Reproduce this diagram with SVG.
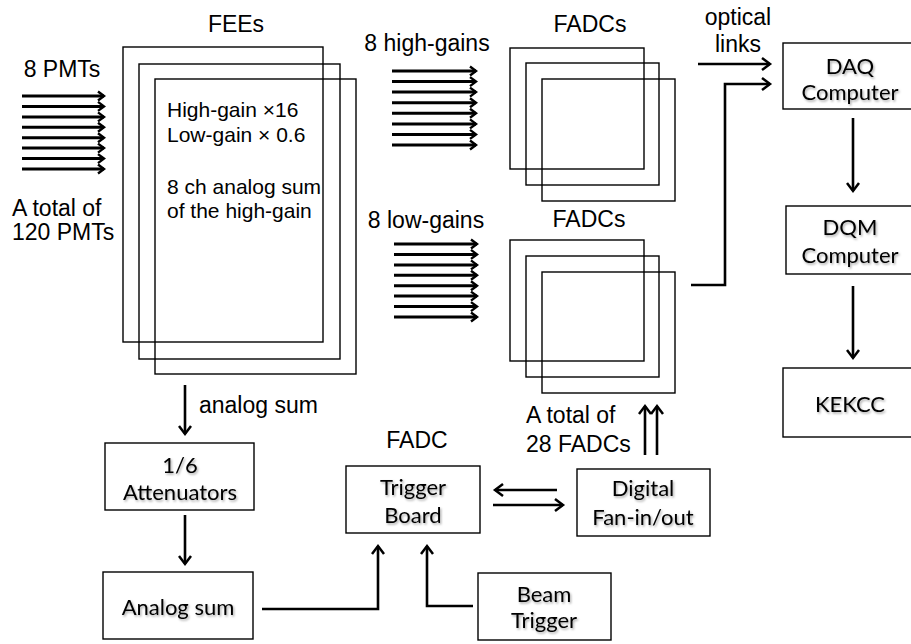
<svg xmlns="http://www.w3.org/2000/svg" width="911" height="644" viewBox="0 0 911 644">
  <style>
    .box { fill: none; stroke: #000; stroke-width: 1.4; }
    .lbl { font-family: "Liberation Sans", Arial, sans-serif; font-size: 23px; fill: #000; }
    .inner { font-family: "Liberation Sans", Arial, sans-serif; font-size: 21px; fill: #000; }
    .cal { font-family: Lato, "Open Sans", sans-serif; font-size: 22px; fill: #000; text-anchor: middle; filter: url(#shadow); }
    .mid { text-anchor: middle; }
    .wire { fill: none; stroke: #000; stroke-width: 2.6; }
    .bus { fill: none; stroke: #000; stroke-width: 3; marker-end: url(#ahs); }
    .arr { marker-end: url(#ah); }
  </style>
  <defs>
    <marker id="ah" markerUnits="userSpaceOnUse" markerWidth="14" markerHeight="14" refX="9" refY="7" orient="auto" overflow="visible">
      <path d="M1,1 L9,7 L1,13" fill="none" stroke="#000" stroke-width="2.5"/>
    </marker>
    <marker id="ahs" markerUnits="userSpaceOnUse" markerWidth="12" markerHeight="12" refX="7" refY="6" orient="auto" overflow="visible">
      <path d="M1,1.5 L7,6 L1,10.5" fill="none" stroke="#000" stroke-width="2.4"/>
    </marker>
    <filter id="shadow" x="-10%" y="-20%" width="130%" height="150%">
      <feDropShadow dx="1.2" dy="1.6" stdDeviation="1.1" flood-color="#000" flood-opacity="0.35"/>
    </filter>
  </defs>

  <!-- input PMT signals -->
  <g id="pmts">
    <text class="lbl mid" x="62" y="77">8 PMTs</text>
    <text class="lbl" x="12" y="216">A total of</text>
    <text class="lbl" x="12" y="240">120 PMTs</text>
  </g>

  <!-- front-end electronics stack -->
  <g id="fees">
    <text class="lbl mid" x="236" y="32">FEEs</text>
    <rect class="box" x="123" y="47" width="200" height="295"/>
    <rect class="box" x="139" y="64" width="201" height="295"/>
    <rect class="box" x="155" y="79" width="201" height="295"/>
    <text class="inner" x="167" y="117">High-gain ×16</text>
    <text class="inner" x="167" y="142">Low-gain × 0.6</text>
    <text class="inner" x="167" y="194">8 ch analog sum</text>
    <text class="inner" x="167" y="218">of the high-gain</text>
  </g>

  <!-- high-gain digitisers -->
  <g id="fadcs-high">
    <text class="lbl mid" x="427" y="51">8 high-gains</text>
    <text class="lbl mid" x="590" y="32">FADCs</text>
    <rect class="box" x="510" y="48" width="134" height="121"/>
    <rect class="box" x="526" y="63" width="133" height="122"/>
    <rect class="box" x="542" y="79" width="133" height="122"/>
  </g>

  <!-- low-gain digitisers -->
  <g id="fadcs-low">
    <text class="lbl mid" x="426" y="228">8 low-gains</text>
    <text class="lbl mid" x="589" y="227">FADCs</text>
    <rect class="box" x="510" y="240" width="134" height="121"/>
    <rect class="box" x="526" y="256" width="133" height="121"/>
    <rect class="box" x="542" y="272" width="133" height="121"/>
    <text class="lbl" x="526" y="423">A total of</text>
    <text class="lbl" x="526" y="452">28 FADCs</text>
  </g>

  <g id="optical-label">
    <text class="lbl mid" x="738" y="25">optical</text>
    <text class="lbl mid" x="738" y="52">links</text>
  </g>

  <g id="daq">
    <rect class="box" x="783" y="43" width="130" height="66"/>
    <text class="cal" x="850" y="74">DAQ</text>
    <text class="cal" x="850" y="100">Computer</text>
  </g>

  <g id="dqm">
    <rect class="box" x="786" y="206" width="127" height="68"/>
    <text class="cal" x="850" y="235">DQM</text>
    <text class="cal" x="850" y="263">Computer</text>
  </g>

  <g id="kekcc">
    <rect class="box" x="783" y="368" width="130" height="69"/>
    <text class="cal" x="850" y="412">KEKCC</text>
  </g>

  <g id="analog-sum-label">
    <text class="lbl" x="199" y="413">analog sum</text>
  </g>

  <g id="attenuators">
    <rect class="box" x="105" y="443" width="149" height="67"/>
    <text class="cal" x="180" y="473">1/6</text>
    <text class="cal" x="180" y="500">Attenuators</text>
  </g>

  <g id="analog-sum">
    <rect class="box" x="103" y="572" width="150" height="67"/>
    <text class="cal" x="178" y="615">Analog sum</text>
  </g>

  <g id="trigger-board">
    <text class="lbl mid" x="417" y="448">FADC</text>
    <rect class="box" x="346" y="466" width="134" height="67"/>
    <text class="cal" x="413" y="495">Trigger</text>
    <text class="cal" x="413" y="523">Board</text>
  </g>

  <g id="fan-in-out">
    <rect class="box" x="577" y="469" width="133" height="67"/>
    <text class="cal" x="643" y="496">Digital</text>
    <text class="cal" x="643" y="525">Fan-in/out</text>
  </g>

  <g id="beam-trigger">
    <rect class="box" x="478" y="573" width="133" height="67"/>
    <text class="cal" x="544" y="602">Beam</text>
    <text class="cal" x="544" y="628">Trigger</text>
  </g>

  <!-- connectors -->
  <g id="connectors">
    <!-- 8 PMT inputs into the FEEs -->
    <g>
      <line class="bus" x1="22" y1="96" x2="104" y2="96"/>
      <line class="bus" x1="22" y1="106.4" x2="104" y2="106.4"/>
      <line class="bus" x1="22" y1="116.9" x2="104" y2="116.9"/>
      <line class="bus" x1="22" y1="127.3" x2="104" y2="127.3"/>
      <line class="bus" x1="22" y1="137.7" x2="104" y2="137.7"/>
      <line class="bus" x1="22" y1="148.1" x2="104" y2="148.1"/>
      <line class="bus" x1="22" y1="158.6" x2="104" y2="158.6"/>
      <line class="bus" x1="22" y1="169" x2="104" y2="169"/>
    </g>
    <!-- 8 high-gain outputs -->
    <g>
      <line class="bus" x1="392" y1="71" x2="476" y2="71"/>
      <line class="bus" x1="392" y1="81.6" x2="476" y2="81.6"/>
      <line class="bus" x1="392" y1="92.1" x2="476" y2="92.1"/>
      <line class="bus" x1="392" y1="102.7" x2="476" y2="102.7"/>
      <line class="bus" x1="392" y1="113.3" x2="476" y2="113.3"/>
      <line class="bus" x1="392" y1="123.9" x2="476" y2="123.9"/>
      <line class="bus" x1="392" y1="134.4" x2="476" y2="134.4"/>
      <line class="bus" x1="392" y1="145" x2="476" y2="145"/>
    </g>
    <!-- 8 low-gain outputs -->
    <g>
      <line class="bus" x1="394" y1="244" x2="477" y2="244"/>
      <line class="bus" x1="394" y1="254.4" x2="477" y2="254.4"/>
      <line class="bus" x1="394" y1="264.9" x2="477" y2="264.9"/>
      <line class="bus" x1="394" y1="275.3" x2="477" y2="275.3"/>
      <line class="bus" x1="394" y1="285.7" x2="477" y2="285.7"/>
      <line class="bus" x1="394" y1="296.1" x2="477" y2="296.1"/>
      <line class="bus" x1="394" y1="306.6" x2="477" y2="306.6"/>
      <line class="bus" x1="394" y1="317" x2="477" y2="317"/>
    </g>

    <!-- optical links to the DAQ computer -->
    <line class="wire arr" x1="698" y1="64" x2="770" y2="64"/>
    <polyline class="wire arr" points="691,285 725,285 725,84 770,84"/>

    <!-- DAQ -> DQM -> KEKCC -->
    <line class="wire arr" x1="853" y1="118" x2="853" y2="191"/>
    <line class="wire arr" x1="853" y1="286" x2="853" y2="358"/>

    <!-- analog sum path -->
    <line class="wire arr" x1="185" y1="385" x2="185" y2="434"/>
    <line class="wire arr" x1="185" y1="515" x2="185" y2="564"/>
    <polyline class="wire arr" points="262,609 378,609 378,546"/>
    <polyline class="wire arr" points="473,606 427,606 427,546"/>

    <!-- trigger board <-> digital fan-in/out -->
    <line class="wire arr" x1="557" y1="490" x2="495" y2="490"/>
    <line class="wire arr" x1="493" y1="505" x2="563" y2="505"/>

    <!-- fan-out to the FADCs -->
    <line class="wire arr" x1="645" y1="455" x2="645" y2="406"/>
    <line class="wire arr" x1="657" y1="455" x2="657" y2="406"/>
  </g>
</svg>
